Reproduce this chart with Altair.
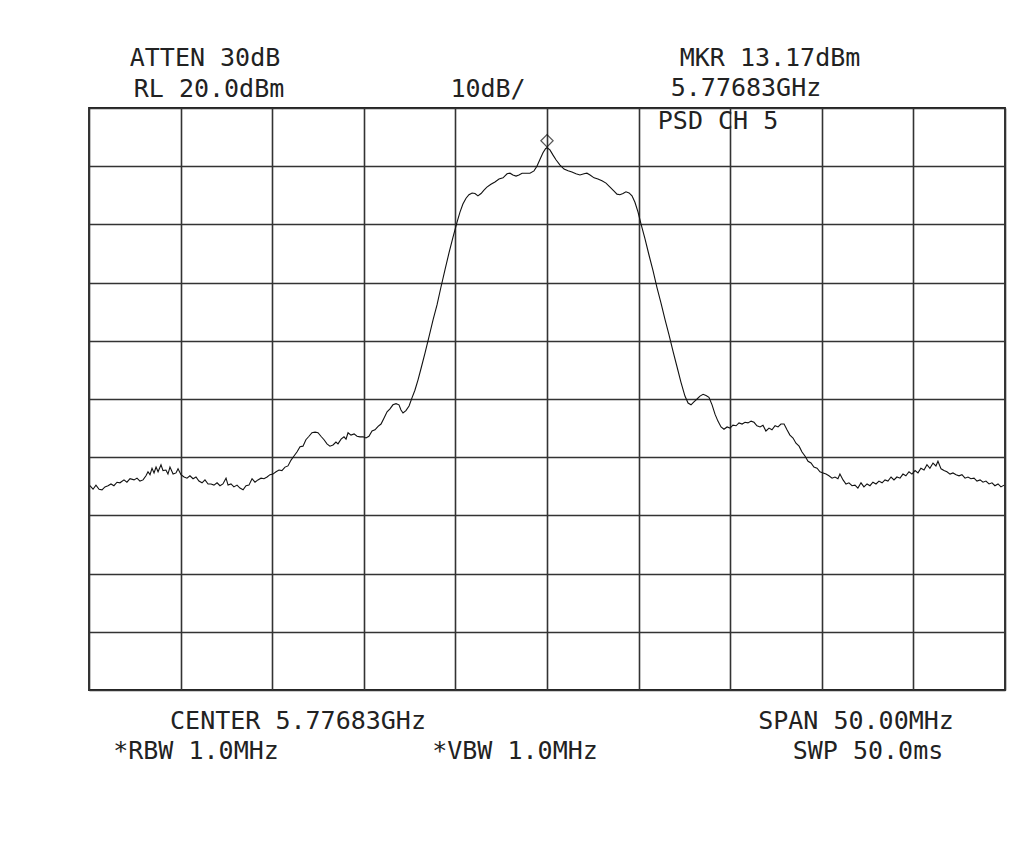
import altair as alt
import pandas as pd

# Frequency offset from centre (MHz) and measured level (dBm)
FREQ_MHZ = [
    -24.95, -24.78, -24.62, -24.45, -24.29, -24.13, -23.96, -23.80, -23.64, -23.47,
    -23.31, -23.09, -22.93, -22.76, -22.54, -22.38, -22.22, -22.05, -21.89, -21.78,
    -21.67, -21.56, -21.45, -21.34, -21.23, -21.07, -20.96, -20.80, -20.69, -20.58,
    -20.41, -20.25, -20.14, -19.98, -19.81, -19.65, -19.49, -19.32, -19.16, -19.00,
    -18.83, -18.67, -18.50, -18.34, -18.18, -18.01, -17.85, -17.69, -17.52, -17.41,
    -17.25, -17.09, -16.92, -16.76, -16.59, -16.43, -16.27, -16.10, -15.94, -15.78,
    -15.61, -15.45, -15.28, -15.12, -14.96, -14.79, -14.63, -14.47, -14.30, -14.14,
    -13.97, -13.81, -13.65, -13.48, -13.32, -13.16, -12.99, -12.83, -12.66, -12.50,
    -12.34, -12.17, -12.01, -11.85, -11.68, -11.52, -11.41, -11.24, -11.08, -10.97,
    -10.86, -10.70, -10.53, -10.37, -10.21, -10.04, -9.88, -9.72, -9.55, -9.39,
    -9.22, -9.06, -8.90, -8.73, -8.57, -8.41, -8.24, -8.08, -7.97, -7.86,
    -7.70, -7.53, -7.37, -7.21, -7.04, -6.88, -6.66, -6.44, -6.22, -6.00,
    -5.79, -5.57, -5.35, -5.13, -4.91, -4.75, -4.59, -4.42, -4.26, -4.09,
    -3.93, -3.77, -3.60, -3.44, -3.28, -3.06, -2.84, -2.62, -2.40, -2.18,
    -2.02, -1.86, -1.69, -1.53, -1.36, -1.14, -0.93, -0.71, -0.55, -0.38,
    -0.22, -0.08, 0.00, 0.16, 0.33, 0.49, 0.71, 0.93, 1.15, 1.36,
    1.58, 1.80, 2.02, 2.18, 2.35, 2.57, 2.78, 3.00, 3.22, 3.44,
    3.66, 3.82, 3.98, 4.15, 4.31, 4.48, 4.64, 4.80, 4.97, 5.13,
    5.35, 5.57, 5.79, 6.00, 6.22, 6.44, 6.66, 6.88, 7.10, 7.31,
    7.53, 7.70, 7.86, 8.02, 8.19, 8.35, 8.52, 8.68, 8.84, 9.01,
    9.17, 9.33, 9.50, 9.66, 9.83, 9.99, 10.15, 10.32, 10.48, 10.65,
    10.81, 10.97, 11.14, 11.30, 11.46, 11.63, 11.79, 11.95, 12.12, 12.28,
    12.45, 12.61, 12.77, 12.94, 13.10, 13.26, 13.43, 13.59, 13.76, 13.92,
    14.08, 14.25, 14.41, 14.57, 14.74, 14.90, 15.07, 15.23, 15.39, 15.56,
    15.72, 15.88, 15.99, 16.16, 16.32, 16.48, 16.65, 16.81, 16.97, 17.14,
    17.30, 17.47, 17.63, 17.79, 17.96, 18.12, 18.29, 18.45, 18.61, 18.78,
    18.94, 19.10, 19.27, 19.43, 19.59, 19.76, 19.92, 20.09, 20.25, 20.41,
    20.58, 20.74, 20.90, 21.07, 21.23, 21.34, 21.51, 21.67, 21.83, 22.00,
    22.16, 22.33, 22.49, 22.65, 22.82, 22.98, 23.14, 23.31, 23.47, 23.64,
    23.80, 23.96, 24.13, 24.29, 24.45, 24.62, 24.78, 24.95,
]

LEVEL_DBM = [
    -44.9, -45.5, -44.8, -45.5, -45.6, -45.1, -44.9, -44.6, -44.9, -44.3,
    -44.4, -43.9, -44.3, -43.7, -43.9, -43.6, -44.1, -43.9, -43.2, -42.5,
    -43.0, -41.9, -42.7, -41.7, -42.5, -41.3, -42.3, -42.2, -42.9, -41.7,
    -42.9, -42.7, -42.0, -43.0, -43.4, -43.6, -43.2, -43.7, -43.4, -44.1,
    -44.4, -43.9, -44.6, -44.6, -44.8, -44.4, -44.9, -44.6, -43.6, -44.8,
    -44.6, -45.1, -44.8, -45.3, -45.6, -44.9, -44.8, -43.7, -44.3, -43.9,
    -43.6, -43.7, -43.4, -43.0, -42.9, -42.5, -42.2, -42.3, -41.7, -41.5,
    -40.5, -39.8, -39.1, -38.2, -38.1, -37.0, -36.4, -35.8, -35.7, -35.8,
    -36.4, -37.0, -37.7, -38.1, -37.9, -37.4, -37.7, -36.9, -36.5, -36.9,
    -35.8, -36.2, -36.0, -36.4, -36.5, -36.5, -36.7, -36.4, -35.5, -35.3,
    -34.7, -34.3, -33.3, -32.2, -31.7, -31.0, -30.8, -31.0, -31.9, -32.4,
    -32.0, -31.2, -29.8, -28.5, -26.7, -24.8, -22.1, -19.3, -16.4, -13.8,
    -10.8, -7.8, -4.9, -2.2, 0.4, 2.1, 3.5, 4.5, 5.1, 5.4,
    5.3, 4.9, 5.3, 5.9, 6.4, 6.9, 7.3, 7.8, 8.0, 8.7,
    8.8, 8.5, 8.3, 8.5, 8.8, 8.8, 8.8, 9.2, 10.0, 11.2,
    12.3, 13.0, 13.17, 12.8, 11.9, 11.1, 10.2, 9.5, 9.2, 9.0,
    8.7, 8.5, 8.7, 8.8, 8.5, 8.0, 7.8, 7.5, 7.1, 6.4,
    5.7, 5.2, 5.1, 5.3, 5.6, 5.4, 4.9, 3.8, 2.1, 0.1,
    -2.5, -5.3, -8.0, -10.8, -13.5, -16.3, -19.0, -21.8, -24.5, -27.1,
    -29.5, -30.7, -31.0, -30.5, -30.0, -29.5, -29.2, -29.4, -29.7, -31.0,
    -32.6, -33.8, -34.8, -35.2, -34.8, -35.0, -34.5, -34.6, -34.1, -34.3,
    -34.0, -34.1, -33.8, -34.0, -34.6, -34.8, -34.5, -35.5, -35.0, -35.3,
    -34.6, -34.8, -34.3, -34.3, -35.3, -36.2, -36.7, -37.6, -38.1, -39.1,
    -39.8, -40.7, -41.0, -41.7, -41.9, -42.5, -42.7, -42.9, -43.2, -43.6,
    -43.4, -43.7, -42.9, -43.9, -44.6, -44.4, -44.9, -44.8, -45.3, -44.4,
    -45.1, -44.6, -44.9, -44.3, -44.6, -44.1, -44.4, -43.9, -44.1, -43.4,
    -43.9, -43.4, -43.6, -42.9, -43.2, -42.5, -42.9, -42.3, -42.7, -41.9,
    -42.2, -41.3, -41.9, -41.0, -41.5, -40.7, -42.0, -42.3, -42.5, -42.9,
    -42.7, -43.0, -43.2, -43.0, -43.6, -43.4, -43.7, -43.6, -44.1, -43.9,
    -44.3, -44.1, -44.6, -44.4, -44.9, -44.6, -45.1, -44.8,
]

MARKER_FREQ = [0.0]
MARKER_LEVEL = [13.17]

X_TICKS = [-25, -20, -15, -10, -5, 0, 5, 10, 15, 20, 25]
Y_TICKS = [-80, -70, -60, -50, -40, -30, -20, -10, 0, 10, 20]

trace = pd.DataFrame({"f": FREQ_MHZ, "dbm": LEVEL_DBM})
marker = pd.DataFrame({"f": MARKER_FREQ, "dbm": MARKER_LEVEL})

W, H = 916, 582
FONT = "DejaVu Sans Mono"
INK = "#222222"

xs = alt.Scale(domain=[-25, 25], nice=False, zero=False)
ys = alt.Scale(domain=[-80, 20], nice=False, zero=False)
xaxis = alt.Axis(values=X_TICKS, grid=True, labels=False, ticks=False, domain=False,
                 title=None, gridColor="#333333", gridWidth=1.6, gridOpacity=1)
yaxis = alt.Axis(values=Y_TICKS, grid=True, labels=False, ticks=False, domain=False,
                 title=None, gridColor="#333333", gridWidth=1.6, gridOpacity=1)

line = alt.Chart(trace).mark_line(color="#111111", strokeWidth=1.1).encode(
    x=alt.X("f:Q", scale=xs, axis=xaxis),
    y=alt.Y("dbm:Q", scale=ys, axis=yaxis),
)

mk = alt.Chart(marker).mark_point(shape="diamond", size=150, filled=False,
                                   color="#111111", strokeWidth=1.2, yOffset=-7).encode(
    x=alt.X("f:Q", scale=xs),
    y=alt.Y("dbm:Q", scale=ys),
)

def label(txt, cx, cy):
    return alt.Chart(marker).mark_text(font=FONT, fontSize=25, color=INK,
                                       align="center", baseline="middle").encode(
        x=alt.value(cx), y=alt.value(cy), text=alt.value(txt))

labels = [
    label("ATTEN 30dB", 116, -50),
    label("RL 20.0dBm", 120, -19),
    label("10dB/", 399, -19),
    label("MKR 13.17dBm", 681, -50),
    label("5.77683GHz", 657, -20),
    label("PSD CH 5", 629, 13),
    label("CENTER 5.77683GHz", 209, 613),
    label("SPAN 50.00MHz", 767, 613),
    label("*RBW 1.0MHz", 107, 643),
    label("*VBW 1.0MHz", 426, 643),
    label("SWP 50.0ms", 779, 643),
]

chart = alt.layer(line, mk, *labels).properties(
    width=W, height=H,
    autosize=alt.AutoSizeParams(type="none"),
    padding={"left": 81, "top": 100, "right": 7, "bottom": 150},
    background="white",
).configure_view(stroke="#222222", strokeWidth=1.8)

chart.save("out.html", embed_options={"renderer": "svg", "actions": False})
